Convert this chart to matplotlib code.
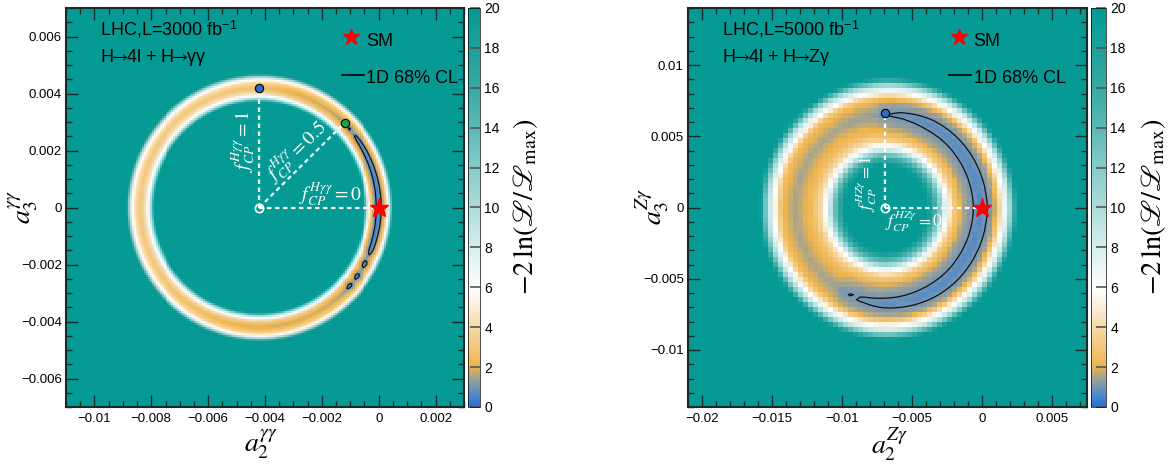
import numpy as np
import matplotlib
matplotlib.use('Agg')
import matplotlib.pyplot as plt
from matplotlib.colors import LinearSegmentedColormap
from matplotlib.ticker import MultipleLocator, FuncFormatter
from matplotlib.lines import Line2D

plt.rcParams['mathtext.fontset'] = 'stix'
plt.rcParams['font.family'] = ['Liberation Sans', 'DejaVu Sans']

W, H = 1173, 466

# colour scale of -2 ln(L/Lmax), 0..20
cmap_vals = [0, 0.5, 1, 1.5, 2, 3, 4, 5, 6, 7, 8, 10, 12, 14, 16, 18, 20]
cmap_cols = ['#2a6fd6', '#4a86cc', '#7896b0', '#a8a48c', '#eeb44c', '#f2c77c', '#f6daa6',
             '#fbeedb', '#ffffff', '#eaf6f6', '#d6eeed', '#acdcda', '#85ccc9', '#5cb9b5',
             '#38aaa5', '#1ca09b', '#059a94']

# left panel: H->4l + H->gamma gamma, 3000 fb-1
L_xlim = (-0.011, 0.003)
L_ylim = (-0.007, 0.007)
L_center = -0.0042
L_radius = 0.0042
L_ang = [-180, -150, -120, -100, -80, -65, -50, -44, -41, -38, -35, -32, -28, -25, -21, -16, -8,
         0, 10, 20, 28, 34, 37, 39, 41, 43, 50, 60, 75, 90, 110, 150]
L_min = [3.0, 2.9, 2.4, 1.9, 1.7, 1.8, 1.5, 1.25, 0.5, 1.2, 0.45, 1.2, 0.45, 1.15, 0.5, 0.45, 0.4,
         0.35, 0.4, 0.45, 0.5, 0.6, 0.8, 1.1, 0.7, 1.15, 1.5, 1.7, 1.9, 2.6, 2.9, 3.0]
L_shift_ang = [-180, 0, 180]
L_shift = [0.0, 0.0, 0.0]
L_width_ang = [-180, 0, 180]
L_width = [1.0, 1.0, 1.0]
L_dr = [-0.0007, -0.0005, -0.0004, -0.0003, -0.0002, -0.0001, 0,
        0.0001, 0.0002, 0.0003, 0.0004, 0.0005, 0.0007]
L_dchi = [40, 18, 9, 4, 1.6, 0.7, 0, 0.7, 1.6, 4, 9, 18, 40]
L_bins = 200
L_pts = {'f1': (-0.0042, 0.0042), 'f05': (-0.0012, 0.00297)}

# right panel: H->4l + H->Z gamma, 5000 fb-1
R_xlim = (-0.021, 0.0075)
R_ylim = (-0.014, 0.014)
R_center = -0.0069
R_ring_cx = -0.0071
R_radius = 0.0064
R_ang = [-180, -140, -122, -115, -105, -90, -60, -30, 0, 30, 60, 80, 90, 96, 120, 150]
R_min = [1.5, 1.5, 1.4, 1.0, 0.88, 0.76, 0.67, 0.65, 0.65, 0.67, 0.72, 0.86, 1.0, 1.3, 1.5, 1.5]
R_shift_ang = [-180, -135, -90, -45, 0, 45, 90, 135]
R_shift = [-0.0002, 0.0, 0.0003, 0.0005, 0.0006, 0.0004, 0.0001, -0.0001]
R_width_ang = [-180, -90, 0, 90]
R_width = [1.0, 1.0, 1.05, 1.0]
R_dr = [-0.0045, -0.0036, -0.0032, -0.0028, -0.0025, -0.0022, -0.0018, -0.0012, -0.0007, 0,
        0.0007, 0.001, 0.0013, 0.0016, 0.002, 0.0026, 0.004]
R_dchi = [40, 19.5, 16, 12, 8, 5, 2.5, 1.0, 0.5, 0, 0.5, 1.0, 2.5, 5, 8.5, 18.5, 40]
R_bins = 80
R_pts = {'f1': (-0.0069, 0.0066)}

cmap = LinearSegmentedColormap.from_list(
    'nll', [(v / 20.0, c) for v, c in zip(cmap_vals, cmap_cols)])


def px_rect(x0, top, w, h):
    return [x0 / W, 1 - (top + h) / H, w / W, h / H]


def ring_field(p):
    xe = np.linspace(p['xlim'][0], p['xlim'][1], p['nb'] + 1)
    ye = np.linspace(p['ylim'][0], p['ylim'][1], p['nb'] + 1)
    X, Y = np.meshgrid(0.5 * (xe[1:] + xe[:-1]), 0.5 * (ye[1:] + ye[:-1]))
    r = np.hypot(X - p['ring_cx'], Y)
    th = np.degrees(np.arctan2(Y, X - p['ring_cx']))
    dr = r - p['radius'] - np.interp(th, p['sang'], p['shift'], period=360)
    w = np.interp(th, p['wang'], p['width'], period=360)
    dr = np.where(dr < 0, dr / w, dr)
    Z = np.interp(th, p['ang'], p['amin'], period=360) + np.interp(dr, p['dr'], p['dchi'])
    return xe, ye, X, Y, np.clip(Z, 0, 20)


def fmt(v, p):
    if abs(v) < 1e-12:
        return '0'
    return ('%g' % v).replace('-', '\u2212')


def style_axes(ax, major, minor):
    ax.xaxis.set_major_locator(MultipleLocator(major))
    ax.xaxis.set_minor_locator(MultipleLocator(minor))
    ax.yaxis.set_major_locator(MultipleLocator(major))
    ax.yaxis.set_minor_locator(MultipleLocator(minor))
    ax.xaxis.set_major_formatter(FuncFormatter(fmt))
    ax.yaxis.set_major_formatter(FuncFormatter(fmt))
    ax.tick_params(which='both', direction='in', top=True, right=True,
                   colors='#1a2a2a', labelcolor='black', labelsize=9.5, width=1)
    ax.tick_params(which='major', length=8.5)
    ax.tick_params(which='minor', length=4.3)
    ax.tick_params(axis='x', pad=4)
    ax.tick_params(axis='y', pad=3)
    for s in ax.spines.values():
        s.set_linewidth(1.5)
        s.set_color('#1a2a2a')


fig = plt.figure(figsize=(W / 100, H / 100), dpi=100)

panels = [
    dict(rect=(66, 8, 398, 399), crect=(468, 8, 12, 399), xlim=L_xlim, ylim=L_ylim, nb=L_bins,
         cx=L_center, ring_cx=L_center, radius=L_radius, ang=L_ang, amin=L_min,
         sang=L_shift_ang, shift=L_shift, wang=L_width_ang, width=L_width, dr=L_dr, dchi=L_dchi,
         major=0.002, minor=0.0005, lumi='3000',
         chan=r'H$\!\!\rightarrow\!\!$4l + H$\!\!\rightarrow\!\!$γγ',
         sup=r'H\gamma\gamma', xl=r'$a_2^{\gamma\gamma}$', yl=r'$a_3^{\gamma\gamma}$',
         xlpos=(261, 445), ylpos=(24, 207), clpos=(526, 207), leg_dx=0.0),
    dict(rect=(688, 8, 399, 399), crect=(1091, 8, 15, 399), xlim=R_xlim, ylim=R_ylim, nb=R_bins,
         cx=R_center, ring_cx=R_ring_cx, radius=R_radius, ang=R_ang, amin=R_min,
         sang=R_shift_ang, shift=R_shift, wang=R_width_ang, width=R_width, dr=R_dr, dchi=R_dchi,
         major=0.005, minor=0.001, lumi='5000',
         chan=r'H$\!\!\rightarrow\!\!$4l + H$\!\!\rightarrow\!\!$Zγ',
         sup=r'HZ\gamma', xl=r'$a_2^{Z\gamma}$', yl=r'$a_3^{Z\gamma}$',
         xlpos=(889, 445), ylpos=(653, 207), clpos=(1153, 207), leg_dx=-0.038),
]

for i, p in enumerate(panels):
    ax = fig.add_axes(px_rect(*p['rect']))
    cax = fig.add_axes(px_rect(*p['crect']))
    xe, ye, X, Y, Z = ring_field(p)
    mesh = ax.pcolormesh(xe, ye, Z, cmap=cmap, vmin=0, vmax=20, shading='flat')
    ax.contour(X, Y, Z, levels=[1.0], colors='#111111', linewidths=0.9, zorder=3)
    ax.set_xlim(*p['xlim'])
    ax.set_ylim(*p['ylim'])
    style_axes(ax, p['major'], p['minor'])

    cx = p['cx']
    dash = dict(color='white', lw=1.6, ls=(0, (2, 1.6)), zorder=4)
    if i == 0:
        lab = dict(color='white', fontsize=14, ha='center', va='center', zorder=6)
        top = L_pts['f1']
        mid = L_pts['f05']
        ax.plot([cx, top[0]], [0, top[1]], **dash)
        ax.plot([cx, mid[0]], [0, mid[1]], **dash)
        ax.plot([cx, 0], [0, 0], **dash)
        ax.plot(*top, 'o', ms=6, mfc='#2c6bc8', mec='k', mew=0.8, zorder=5)
        ax.plot(*mid, 'o', ms=6, mfc='#23a045', mec='k', mew=0.8, zorder=5)
        ax.text(-0.00475, 0.00232, r'$f_{CP}^{%s} = 1$' % p['sup'], rotation=90, **lab)
        ax.text(-0.0029, 0.00196, r'$f_{CP}^{%s} = 0.5$' % p['sup'], rotation=45, **lab)
        ax.text(-0.0017, 0.00048, r'$f_{CP}^{%s} = 0$' % p['sup'], **lab)
    else:
        lab = dict(color='white', fontsize=12.5, ha='center', va='center', zorder=6)
        top = R_pts['f1']
        ax.plot([cx, top[0]], [0, top[1]], **dash)
        ax.plot([cx, 0], [0, 0], **dash)
        ax.plot(*top, 'o', ms=6, mfc='#2c6bc8', mec='k', mew=0.8, zorder=5)
        ax.text(-0.0083, 0.00165, r'$f_{CP}^{%s} = 1$' % p['sup'], rotation=90, **lab)
        ax.text(-0.00486, -0.00098, r'$f_{CP}^{%s} = 0$' % p['sup'], **lab)
    ax.plot(cx, 0, 'o', ms=6, mfc='none', mec='white', mew=1.2, zorder=5)
    ax.plot(0, 0, '*', ms=14, color='red', mec='red', zorder=6)

    # header text and legend
    ax.text(0.085, 0.93, r'LHC,L=%s fb$^{\mathregular{-1}}$' % p['lumi'], transform=ax.transAxes,
            fontsize=13, va='baseline', ha='left')
    ax.text(0.085, 0.864, p['chan'], transform=ax.transAxes, fontsize=13, va='baseline', ha='left')
    dx = p['leg_dx']
    ax.plot(0.716 + dx, 0.927, '*', ms=12, color='red', mec='red', transform=ax.transAxes,
            clip_on=False, zorder=6)
    ax.text(0.754 + dx, 0.905, 'SM', transform=ax.transAxes, fontsize=13, va='baseline')
    ax.add_line(Line2D([0.693 + dx, 0.748 + dx], [0.832, 0.832], color='k', lw=1.2,
                       transform=ax.transAxes))
    ax.text(0.754 + dx, 0.811, '1D 68% CL', transform=ax.transAxes, fontsize=13, va='baseline')

    cb = fig.colorbar(mesh, cax=cax)
    cb.set_ticks(range(0, 21, 2))
    cb.outline.set_linewidth(0.5)
    cax.tick_params(direction='in', length=7, width=1.2, color='#555555', labelsize=10, pad=3)

    fig.text(p['xlpos'][0] / W, 1 - p['xlpos'][1] / H, p['xl'], fontsize=20, ha='center', va='center')
    fig.text(p['ylpos'][0] / W, 1 - p['ylpos'][1] / H, p['yl'], fontsize=20, ha='center', va='center',
             rotation=90)
    fig.text(p['clpos'][0] / W, 1 - p['clpos'][1] / H,
             r'$-2\,\ln(\mathscr{L}/\mathscr{L}_{\rm max})$', fontsize=20.5, ha='center', va='center',
             rotation=90)

fig.savefig('out.png', dpi=100)
